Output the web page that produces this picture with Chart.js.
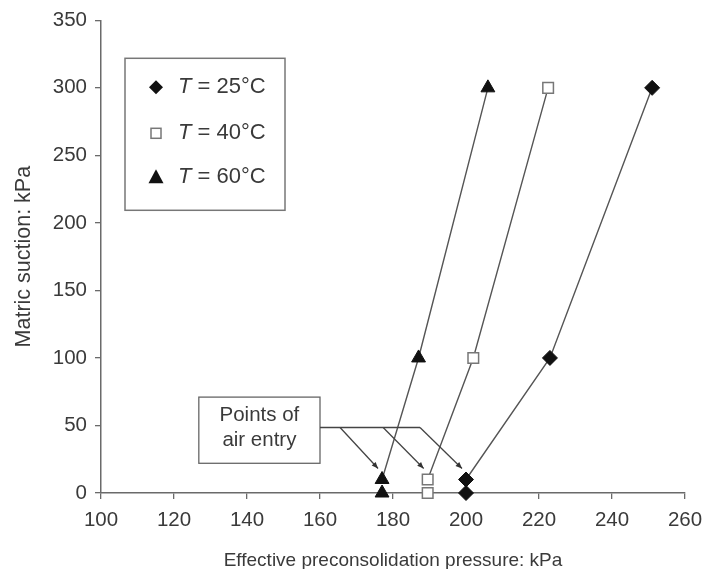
<!DOCTYPE html>
<html>
<head>
<meta charset="utf-8">
<script src="https://cdn.jsdelivr.net/npm/chart.js@4.4.1/dist/chart.umd.min.js"></script>
<style>
  html, body { margin: 0; padding: 0; background: #fff; }
  #wrap { width: 703px; height: 569px; }
</style>
</head>
<body>
<div id="wrap"><canvas id="c" width="703" height="569"></canvas></div>
<script>
// ---- data ----
const pressure25 = [200, 200, 223, 251];
const suction25  = [0, 10, 100, 300];
const pressure40 = [189.5, 189.5, 202, 222.5];
const suction40  = [0, 10, 100, 300];
const pressure60 = [177, 177, 187, 206];
const suction60  = [0, 10, 100, 300];
const seriesLabels = ['25°C', '40°C', '60°C'];
const xTicks = [100, 120, 140, 160, 180, 200, 220, 240, 260];
const yTicks = [0, 50, 100, 150, 200, 250, 300, 350];
const annotationText = ['Points of', 'air entry'];
const xTitle = 'Effective preconsolidation pressure: kPa';
const yTitle = 'Matric suction: kPa';

const FONT = '"Liberation Sans", Arial, sans-serif';
const TXT = '#3a3a3a';
const AX = '#6a6a6a';
const LINE = '#555';

function pts(xs, ys) { return xs.map((x, i) => ({ x: x, y: ys[i] })); }

const hideFirst = { borderColor: c => c.p0DataIndex === 0 ? 'rgba(0,0,0,0)' : LINE };

const datasets = [
  { label: seriesLabels[0], data: pts(pressure25, suction25), showLine: true, clip: false,
    pointStyle: 'rectRot', pointRadius: 7.5, pointBackgroundColor: '#111', pointBorderColor: '#111',
    pointBorderWidth: 1, borderColor: LINE, borderWidth: 1.4, segment: hideFirst },
  { label: seriesLabels[1], data: pts(pressure40, suction40), showLine: true, clip: false,
    pointStyle: 'rect', pointRadius: 7.5, pointBackgroundColor: '#fff', pointBorderColor: '#777',
    pointBorderWidth: 1.5, borderColor: LINE, borderWidth: 1.4, segment: hideFirst },
  { label: seriesLabels[2], data: pts(pressure60, suction60), showLine: true, clip: false,
    pointStyle: 'triangle', pointRadius: 8, pointBackgroundColor: '#111', pointBorderColor: '#111',
    pointBorderWidth: 1, borderColor: LINE, borderWidth: 1.4, segment: hideFirst }
];

// custom legend + annotation plugin
const overlay = {
  id: 'overlay',
  afterDatasetsDraw(chart) {
    const ctx = chart.ctx, xs = chart.scales.x, ys = chart.scales.y, ca = chart.chartArea;
    ctx.save();
    // ---- legend box ----
    const lx = ca.left + 24, ly = ca.top + 38, lw = 160, lh = 152;
    ctx.strokeStyle = '#777'; ctx.lineWidth = 1.5;
    ctx.strokeRect(lx, ly, lw, lh);
    const rowsY = [ly + 29, ly + 75, ly + 119];
    const mx = lx + 31;
    // markers
    ctx.fillStyle = '#111';
    ctx.beginPath();
    ctx.moveTo(mx, rowsY[0] - 7); ctx.lineTo(mx + 7, rowsY[0]); ctx.lineTo(mx, rowsY[0] + 7); ctx.lineTo(mx - 7, rowsY[0]);
    ctx.closePath(); ctx.fill();
    ctx.fillStyle = '#fff'; ctx.strokeStyle = '#777'; ctx.lineWidth = 1.5;
    ctx.fillRect(mx - 5, rowsY[1] - 5, 10, 10); ctx.strokeRect(mx - 5, rowsY[1] - 5, 10, 10);
    ctx.fillStyle = '#111';
    ctx.beginPath();
    ctx.moveTo(mx, rowsY[2] - 8); ctx.lineTo(mx + 7.5, rowsY[2] + 6); ctx.lineTo(mx - 7.5, rowsY[2] + 6);
    ctx.closePath(); ctx.fill();
    // texts
    ctx.fillStyle = TXT; ctx.textBaseline = 'middle'; ctx.textAlign = 'left';
    seriesLabels.forEach((lab, i) => {
      const tx = lx + 53;
      ctx.font = 'italic 22px ' + FONT;
      ctx.fillText('T', tx, rowsY[i]);
      const w = ctx.measureText('T').width;
      ctx.font = '22px ' + FONT;
      ctx.fillText(' = ' + lab, tx + w, rowsY[i]);
    });

    // ---- annotation box "Points of air entry" ----
    const bx0 = xs.getPixelForValue(126.8), bx1 = xs.getPixelForValue(160);
    const by0 = ys.getPixelForValue(71), by1 = ys.getPixelForValue(22);
    ctx.strokeStyle = '#666'; ctx.lineWidth = 1.3;
    ctx.strokeRect(bx0, by0, bx1 - bx0, by1 - by0);
    ctx.fillStyle = TXT; ctx.textAlign = 'center'; ctx.font = '20.5px ' + FONT;
    const bcx = (bx0 + bx1) / 2;
    ctx.fillText(annotationText[0], bcx, by0 + 18);
    ctx.fillText(annotationText[1], bcx, by0 + 43);

    // leader lines
    const hy = ys.getPixelForValue(48.5);
    const branchX = [165.5, 177.3, 187.4].map(v => xs.getPixelForValue(v));
    ctx.strokeStyle = '#444'; ctx.lineWidth = 1.3;
    ctx.beginPath(); ctx.moveTo(bx1, hy); ctx.lineTo(branchX[2], hy); ctx.stroke();
    const targets = [[pressure60[1], suction60[1]], [pressure40[1], suction40[1]], [pressure25[1], suction25[1]]];
    targets.forEach((t, i) => {
      const px = xs.getPixelForValue(t[0]) - 4, py = ys.getPixelForValue(t[1]) - 11;
      const sx = branchX[i];
      ctx.beginPath(); ctx.moveTo(sx, hy); ctx.lineTo(px, py); ctx.stroke();
      const ang = Math.atan2(py - hy, px - sx);
      const L = 7, A = 0.4;
      ctx.fillStyle = '#333';
      ctx.beginPath();
      ctx.moveTo(px, py);
      ctx.lineTo(px - L * Math.cos(ang - A), py - L * Math.sin(ang - A));
      ctx.lineTo(px - L * Math.cos(ang + A), py - L * Math.sin(ang + A));
      ctx.closePath(); ctx.fill();
    });
    ctx.restore();
  }
};

new Chart(document.getElementById('c'), {
  type: 'scatter',
  data: { datasets: datasets },
  options: {
    responsive: false,
    animation: false,
    layout: { padding: { top: 20, right: 18, left: 0, bottom: 0 } },
    plugins: { legend: { display: false }, tooltip: { enabled: false } },
    scales: {
      x: {
        type: 'linear', min: 100, max: 260,
        afterBuildTicks: s => { s.ticks = xTicks.map(v => ({ value: v })); },
        afterFit: s => { s.height = 76; s.paddingRight = 0; s.paddingLeft = 0; },
        ticks: { color: TXT, font: { family: FONT, size: 20.5 }, padding: 9 },
        grid: { display: true, drawOnChartArea: false, drawTicks: true, tickLength: 6, color: AX, lineWidth: 1.3 },
        border: { display: true, color: AX, width: 1.5 },
        title: { display: true, text: xTitle, color: TXT, font: { family: FONT, size: 19 }, padding: { top: 0, bottom: -3 } }
      },
      y: {
        type: 'linear', min: 0, max: 350,
        afterBuildTicks: s => { s.ticks = yTicks.map(v => ({ value: v })); },
        afterFit: s => { s.width = 101; },
        ticks: { color: TXT, font: { family: FONT, size: 20.5 }, padding: 8 },
        grid: { display: true, drawOnChartArea: false, drawTicks: true, tickLength: 6, color: AX, lineWidth: 1.3 },
        border: { display: true, color: AX, width: 1.5 },
        title: { display: true, text: yTitle, color: TXT, font: { family: FONT, size: 21.5 }, padding: { top: 11, bottom: 0 } }
      }
    }
  },
  plugins: [overlay]
});
</script>
</body>
</html>
